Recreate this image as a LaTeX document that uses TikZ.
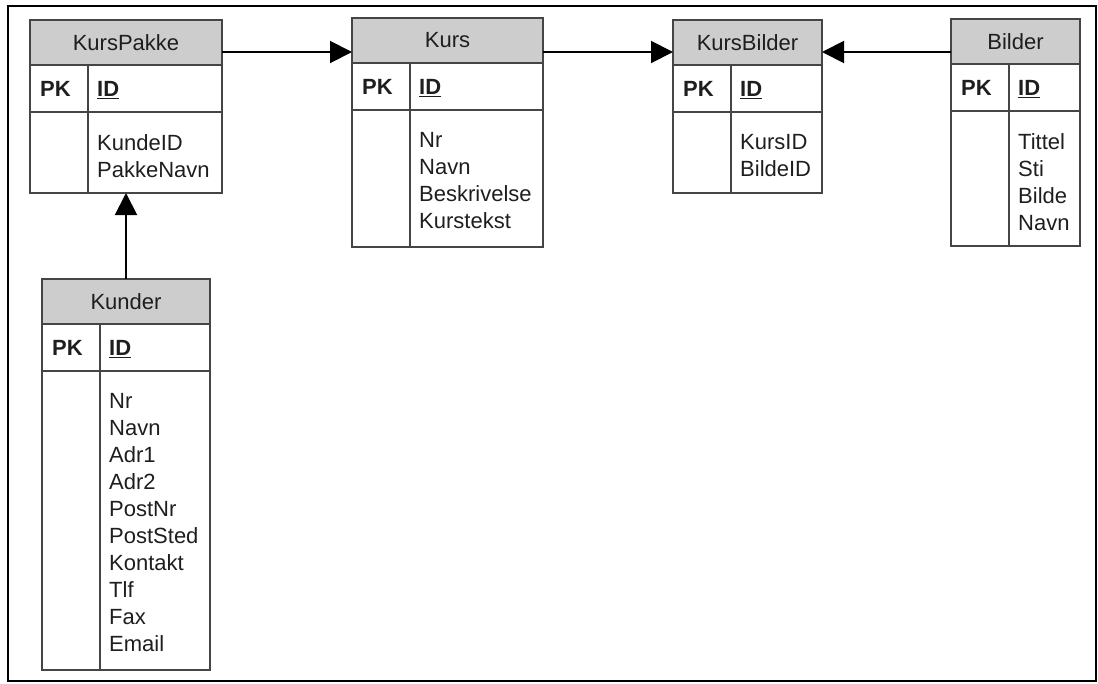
\documentclass[tikz,border=0pt]{standalone}
\usepackage{fontspec}
\setmainfont{Liberation Sans}
\usetikzlibrary{arrows.meta,calc}
\definecolor{hdrgray}{HTML}{CDCDCD}
\definecolor{edgecol}{HTML}{454545}
\definecolor{ink}{HTML}{1E1E1E}
\tikzset{
  tablefont/.style={font=\fontsize{22}{27}\selectfont, text=ink},
  hdr/.style={draw=edgecol, line width=1.3pt, fill=hdrgray, minimum height=45pt,
    inner sep=0pt, outer sep=0pt, anchor=north west, tablefont},
  cell/.style={draw=edgecol, line width=1.3pt, inner sep=0pt, outer sep=0pt, anchor=north west},
  divider/.style={draw=edgecol, line width=1.3pt},
  pklabel/.style={inner sep=0pt, anchor=base west, tablefont, font=\fontsize{22}{27}\selectfont\bfseries},
  bodytext/.style={inner sep=0pt, anchor=north west, align=left, tablefont},
  link/.style={draw=black, line width=2pt, -{Triangle[length=22pt,width=22pt]}},
  frame/.style={draw=black, line width=2pt}
}
% #1 name, #2 x, #3 y, #4 width, #5 body height, #6 title, #7 body lines
\newcommand{\entitytable}[7]{%
  \node[hdr, minimum width=#4pt] (#1-h) at (#2pt,-#3pt) {#6};
  \node[cell, minimum width=#4pt, minimum height=47pt] (#1-k) at (#1-h.south west) {};
  \node[cell, minimum width=#4pt, minimum height=#5pt] (#1-b) at (#1-k.south west) {};
  \draw[divider] ([xshift=58pt]#1-k.north west) -- ([xshift=58pt]#1-b.south west);
  \node[pklabel] (#1-pk) at ([xshift=10pt,yshift=-8pt]#1-k.west) {PK};
  \node[pklabel] (#1-id) at ([xshift=67pt,yshift=-8pt]#1-k.west) {\underline{ID}};
  \node[bodytext] (#1-t) at ([xshift=67pt,yshift=-22pt]#1-b.north west) {#7};
}
\begin{document}
\begin{tikzpicture}[x=1pt,y=1pt]
  \useasboundingbox (0,0) rectangle (1098,-683);
  \draw[frame] (8,-6) rectangle (1096,-681);

  \entitytable{kp}{30}{20}{192}{81}{KursPakke}{KundeID\\PakkeNavn}
  \entitytable{ku}{352}{18}{191}{137}{Kurs}{Nr\\Navn\\Beskrivelse\\Kurstekst}
  \entitytable{kb}{673}{20}{149}{81}{KursBilder}{KursID\\BildeID}
  \entitytable{bi}{951}{19}{129}{135}{Bilder}{Tittel\\Sti\\Bilde\\Navn}
  \entitytable{kd}{42}{279}{168}{299}{Kunder}{Nr\\Navn\\Adr1\\Adr2\\PostNr\\PostSted\\Kontakt\\Tlf\\Fax\\Email}

  \coordinate (a1) at ([yshift=-9.5pt]kp-h.east);
  \coordinate (a2) at ([yshift=-9.5pt]kp-h.east -| ku-h.east);
  \coordinate (a3) at ([yshift=-9.5pt]kb-h.east);
  \draw[link] (a1) -- (a1 -| ku-h.west);
  \draw[link] (a2) -- (a2 -| kb-h.west);
  \draw[link] (a3 -| bi-h.west) -- (a3);
  \draw[link] (kd-h.north) -- (kd-h.north |- kp-b.south);
\end{tikzpicture}
\end{document}
